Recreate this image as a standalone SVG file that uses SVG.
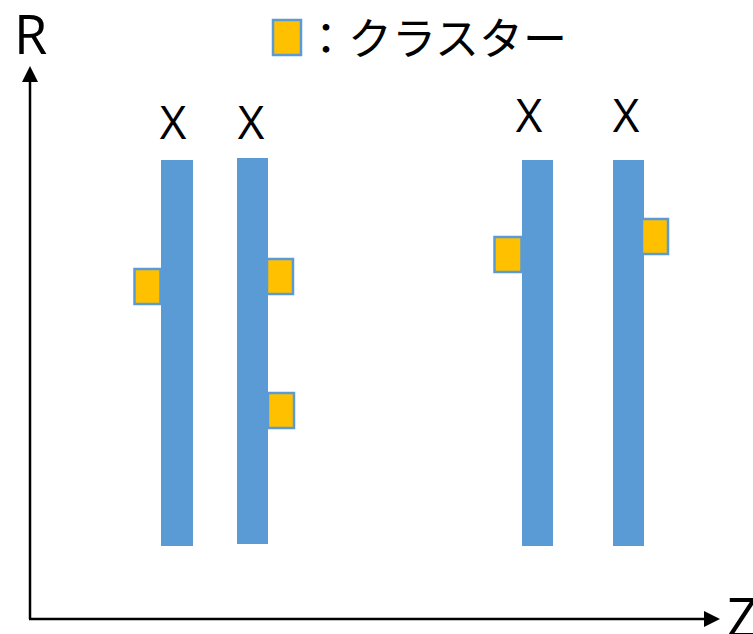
<svg xmlns="http://www.w3.org/2000/svg" width="753" height="634" viewBox="0 0 753 634">
  <style>
    .bar { fill: #5B9BD5; }
    .cluster { fill: #FFC000; stroke: #5B9BD5; stroke-width: 2.5; }
    .axis { stroke: #000; stroke-width: 2.5; fill: none; }
    .lbl { font-family: "Open Sans", "Liberation Sans", sans-serif; fill: #000; }
    .jp { font-family: "Noto Sans CJK JP", "Noto Sans", sans-serif; fill: #000; }
  </style>

  <!-- axes -->
  <g id="connectors">
    <path class="axis" d="M30,619 V80"/>
    <polygon points="30,66 22,82 38,82" fill="#000"/>
    <path class="axis" d="M29,619 H706"/>
    <polygon points="720,619 704,611 704,627" fill="#000"/>
  </g>

  <g id="axis-labels">
    <text class="lbl" x="14" y="54" font-size="54">R</text>
    <text class="lbl" x="727" y="637" font-size="54">Z</text>
  </g>

  <!-- legend -->
  <g id="legend">
    <rect class="cluster" x="273" y="20" width="28" height="35"/>
    <text class="jp" x="304" y="55" font-size="44">：クラスター</text>
  </g>

  <!-- beams with their clusters -->
  <g id="beam1">
    <text class="lbl" x="173" y="139" font-size="46" text-anchor="middle">X</text>
    <rect class="bar" x="161" y="160" width="32" height="386"/>
    <rect class="cluster" x="134.5" y="269" width="26" height="35"/>
  </g>
  <g id="beam2">
    <text class="lbl" x="251" y="139" font-size="46" text-anchor="middle">X</text>
    <rect class="bar" x="237" y="158" width="31" height="386"/>
    <rect class="cluster" x="267" y="259" width="26" height="35"/>
    <rect class="cluster" x="268" y="393" width="26" height="35"/>
  </g>
  <g id="beam3">
    <text class="lbl" x="529" y="132" font-size="46" text-anchor="middle">X</text>
    <rect class="bar" x="522" y="160" width="31" height="386"/>
    <rect class="cluster" x="494.5" y="237" width="27" height="35"/>
  </g>
  <g id="beam4">
    <text class="lbl" x="626" y="132" font-size="46" text-anchor="middle">X</text>
    <rect class="bar" x="613" y="160" width="31" height="386"/>
    <rect class="cluster" x="642" y="219" width="26" height="35"/>
  </g>
</svg>
